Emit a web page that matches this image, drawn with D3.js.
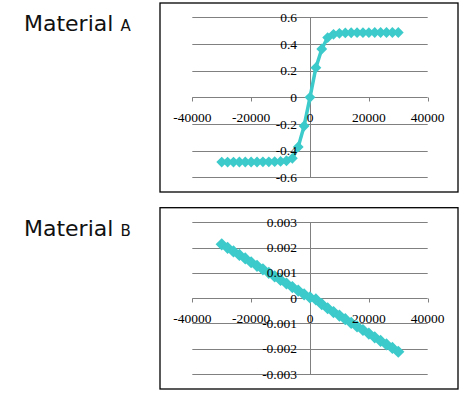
<!DOCTYPE html>
<html><head><meta charset="utf-8">
<script src="https://d3js.org/d3.v7.min.js"></script>
<style>body{margin:0;background:#fff}svg{display:block}</style>
</head><body>
<script>
// ---- data ----
const fieldX = [-30000,-28000,-26000,-24000,-22000,-20000,-18000,-16000,-14000,-12000,-10000,-8000,-6000,-4000,-2000,0,
                2000,4000,6000,8000,10000,12000,14000,16000,18000,20000,22000,24000,26000,28000,30000];
const materialA = [-0.486,-0.486,-0.486,-0.485,-0.485,-0.485,-0.485,-0.484,-0.484,-0.483,-0.481,-0.476,-0.458,-0.372,-0.215,0,
                   0.222,0.362,0.448,0.472,0.480,0.483,0.484,0.485,0.485,0.485,0.486,0.486,0.486,0.486,0.486];
const materialB = [0.00213,0.00199,0.00185,0.00171,0.00157,0.00142,0.00128,0.00114,0.00100,0.00086,0.00072,0.00058,0.00044,0.00030,0.00015,0.00003,
                   -0.00005,-0.00024,-0.00040,-0.00055,-0.00069,-0.00083,-0.00098,-0.00112,-0.00126,-0.00140,-0.00155,-0.00169,-0.00183,-0.00197,-0.00212];
const xTicks = [-40000,-20000,0,20000,40000];
const yTicksA = [-0.6,-0.4,-0.2,0,0.2,0.4,0.6];
const yTicksB = [-0.003,-0.002,-0.001,0,0.001,0.002,0.003];
const titles = ["Material", "Material"];
const subTitles = ["A", "B"];

const W = 475, H = 397;
const svg = d3.select("body").append("svg").attr("width", W).attr("height", H);
const color = "#3ccaca";

const panels = [
  {data: materialA, ticks: yTicksA, fmt: d => d === 0 ? "0" : String(d), top: 3, bottom: 192, yr: [177.3, 17.3], title: 0, msize: 75, lw: 3.5},
  {data: materialB, ticks: yTicksB, fmt: d => d === 0 ? "0" : d.toFixed(3), top: 207.7, bottom: 389, yr: [374, 222.3], title: 1, msize: 95, lw: 5}
];

const x = d3.scaleLinear().domain([-40000, 40000]).range([192.3, 427.7]);

panels.forEach(p => {
  const g = svg.append("g");
  const y = d3.scaleLinear().domain([p.ticks[0], p.ticks[p.ticks.length-1]]).range(p.yr);

  // title
  const t = g.append("text").attr("x", 24).attr("y", p.top + 28)
    .attr("font-family", "DejaVu Sans, Verdana, sans-serif").attr("font-size", 22).attr("fill", "#111");
  t.append("tspan").text(titles[p.title] + " ");
  t.append("tspan").attr("font-size", 15).text(subTitles[p.title]);

  // frame
  g.append("rect").attr("x", 160).attr("y", p.top).attr("width", 298).attr("height", p.bottom - p.top)
    .attr("fill", "none").attr("stroke", "#000").attr("stroke-width", 1.3);

  // gridlines
  g.append("g").selectAll("line").data(p.ticks).join("line")
    .attr("x1", x.range()[0]).attr("x2", x.range()[1])
    .attr("y1", d => Math.round(y(d)) + 0.5).attr("y2", d => Math.round(y(d)) + 0.5)
    .attr("stroke", "#808080").attr("stroke-width", 1);

  // vertical axis line at x=0
  g.append("line").attr("x1", Math.round(x(0)) + 0.5).attr("x2", Math.round(x(0)) + 0.5)
    .attr("y1", y.range()[1]).attr("y2", y.range()[0]).attr("stroke", "#808080");

  // x-axis tick marks
  const y0 = Math.round(y(0)) + 0.5;
  g.append("g").selectAll("line").data(xTicks).join("line")
    .attr("x1", d => Math.round(x(d)) + 0.5).attr("x2", d => Math.round(x(d)) + 0.5)
    .attr("y1", y0).attr("y2", y0 + 4).attr("stroke", "#808080");

  // data line
  const pts = fieldX.map((v, i) => [v, p.data[i]]);
  g.append("path").datum(pts)
    .attr("d", d3.line().x(d => x(d[0])).y(d => y(d[1])))
    .attr("fill", "none").attr("stroke", color).attr("stroke-width", p.lw).attr("stroke-linejoin", "round");
  g.append("g").selectAll("path").data(pts).join("path")
    .attr("d", d3.symbol(d3.symbolDiamond2, p.msize))
    .attr("transform", d => `translate(${x(d[0])},${y(d[1])})`)
    .attr("fill", color);

  // tick labels
  g.append("g").selectAll("text").data(xTicks).join("text")
    .attr("x", d => x(d)).attr("y", y(0) + 24.5)
    .attr("text-anchor", "middle")
    .attr("font-family", "Liberation Serif, Times New Roman, serif").attr("font-size", 13.5).attr("fill", "#000")
    .text(d => String(d));
  g.append("g").selectAll("text").data(p.ticks).join("text")
    .attr("x", 297).attr("y", d => y(d) + 4.6)
    .attr("text-anchor", "end")
    .attr("font-family", "Liberation Serif, Times New Roman, serif").attr("font-size", 13.5).attr("fill", "#000")
    .text(p.fmt);
});
</script>
</body></html>
